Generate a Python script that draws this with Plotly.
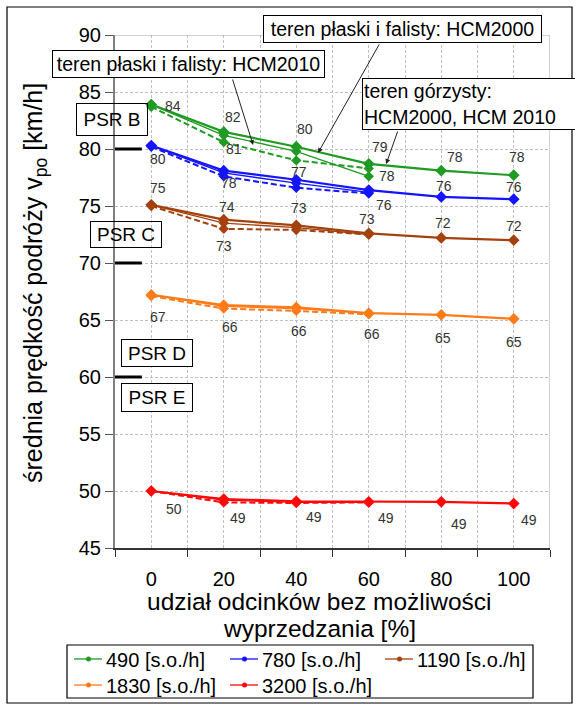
import plotly.graph_objects as go

# share of road sections without overtaking possibility [%]
share = [0, 20, 40, 60, 80, 100]
share_flat = [0, 20, 40, 60]

flows = ["490 [s.o./h]", "780 [s.o./h]", "1190 [s.o./h]", "1830 [s.o./h]", "3200 [s.o./h]"]
colors = ["#1f9a22", "#1414ff", "#a3420f", "#ff7b19", "#ff0808"]

# mean travel speed [km/h]: mountainous terrain (0-100 %)
v490_mount = [83.9, 81.5, 80.2, 78.7, 78.1, 77.7]
v780_mount = [80.3, 78.1, 77.3, 76.4, 75.8, 75.6]
v1190_mount = [75.1, 73.8, 73.3, 72.6, 72.2, 72.0]
v1830_mount = [67.2, 66.3, 66.1, 65.6, 65.45, 65.1]
v3200_mount = [50.0, 49.3, 49.1, 49.05, 49.05, 48.9]

# level and rolling terrain, HCM2000 (0-60 %)
v490_flat2000 = [83.9, 81.2, 79.8, 77.6]
v780_flat2000 = [80.3, 77.9, 77.0, 76.2]
v1190_flat2000 = [75.1, 73.5, 73.1, 72.5]
v1830_flat2000 = [67.2, 66.2, 66.0, 65.6]
v3200_flat2000 = [50.0, 49.2, 49.0, 49.0]

# level and rolling terrain, HCM2010 (0-60 %)
v490_flat2010 = [83.7, 80.6, 79.0, 78.3]
v780_flat2010 = [80.2, 77.6, 76.6, 76.1]
v1190_flat2010 = [75.0, 73.0, 72.9, 72.5]
v1830_flat2010 = [67.1, 66.0, 65.8, 65.5]
v3200_flat2010 = [50.0, 49.0, 48.95, 49.0]

mount = [v490_mount, v780_mount, v1190_mount, v1830_mount, v3200_mount]
flat2000 = [v490_flat2000, v780_flat2000, v1190_flat2000, v1830_flat2000, v3200_flat2000]
flat2010 = [v490_flat2010, v780_flat2010, v1190_flat2010, v1830_flat2010, v3200_flat2010]

FONT = "Arial, 'Liberation Sans', sans-serif"
W, H = 575, 704
L, R, T, B = 115, 550, 35, 548   # plot area in pixels


def px_x(p):
    return (p - L) / (R - L)


def px_y(p):
    return (B - p) / (B - T)


fig = go.Figure()

for i, name in enumerate(flows):
    c = colors[i]
    fig.add_trace(go.Scatter(
        x=share_flat, y=flat2010[i], mode="lines+markers", showlegend=False,
        line=dict(color=c, width=2, dash="6px,3px"),
        marker=dict(symbol="diamond", size=8, color=c), hoverinfo="skip"))
    fig.add_trace(go.Scatter(
        x=share_flat, y=flat2000[i], mode="lines+markers", showlegend=False,
        line=dict(color=c, width=1.3),
        marker=dict(symbol="diamond", size=8, color=c), hoverinfo="skip"))
    fig.add_trace(go.Scatter(
        x=share, y=mount[i], mode="lines+markers", name=name, showlegend=False,
        line=dict(color=c, width=2.2),
        marker=dict(symbol="diamond", size=9, color=c)))

# value labels: (series list, group index, point index, xshift, yshift)
labels = [
    (mount, 0, 0, 22, -1), (mount, 0, 1, 9, 15), (flat2010, 0, 1, 10, -7),
    (mount, 0, 2, 9, 18), (mount, 0, 3, 11, 17), (flat2000, 0, 3, 18, 0),
    (mount, 0, 4, 14, 14), (mount, 0, 5, 3, 18),
    (mount, 1, 0, 7, -13), (mount, 1, 1, 5, -12), (mount, 1, 2, 3, 8),
    (mount, 1, 3, 15, -15), (mount, 1, 4, 3, 11), (mount, 1, 5, 0, 12),
    (mount, 2, 0, 7, 17), (mount, 2, 1, 3, 13), (flat2010, 2, 1, 0, -17),
    (mount, 2, 2, 3, 17), (mount, 2, 3, -2, 14), (mount, 2, 4, 2, 15),
    (mount, 2, 5, 0, 14),
    (mount, 3, 0, 7, -22), (mount, 3, 1, 6, -22), (mount, 3, 2, 3, -24),
    (mount, 3, 3, 3, -21), (mount, 3, 4, 2, -23), (mount, 3, 5, 0, -23),
    (mount, 4, 0, 23, -18), (mount, 4, 1, 14, -19), (mount, 4, 2, 18, -16),
    (mount, 4, 3, 17, -16), (mount, 4, 4, 18, -22), (mount, 4, 5, 15, -16),
]
annotations = []
for series, g, k, xs, ys in labels:
    v = series[g][k]
    annotations.append(dict(
        x=share[k], y=v, xref="x", yref="y", text=str(int(v + 0.5)),
        showarrow=False, xshift=xs, yshift=ys,
        font=dict(family=FONT, size=14, color="#333333")))

# level-of-service boxes
psr = [("PSR B", 76, 103, 72, 33, "rgba(0,0,0,0)"),
       ("PSR C", 90, 221, 72, 27, "rgba(0,0,0,0)"),
       ("PSR D", 121, 339, 72, 28, "white"),
       ("PSR E", 121, 383, 72, 29, "white")]
for txt, x0, y0, w, h, bg in psr:
    annotations.append(dict(
        x=px_x(x0), y=px_y(y0), xref="paper", yref="paper",
        xanchor="left", yanchor="top", text=txt, showarrow=False,
        width=w - 4, height=h - 4, borderpad=1, bordercolor="black",
        borderwidth=1, bgcolor=bg, font=dict(family=FONT, size=19, color="black")))

# captions with arrows
captions = [
    ("teren płaski i falisty: HCM2000", 263, 15, 279, 28, "center"),
    ("teren płaski i falisty: HCM2010", 52, 50, 273, 28, "center"),
    ("teren górzysty:<br>HCM2000, HCM 2010", 362, 78, 216, 52, "left"),
]
for txt, x0, y0, w, h, al in captions:
    annotations.append(dict(
        x=px_x(x0), y=px_y(y0), xref="paper", yref="paper",
        xanchor="left", yanchor="top", text=txt, showarrow=False, align=al,
        width=w - 4, height=h - 4, borderpad=1, bordercolor="black",
        borderwidth=1, bgcolor="white", font=dict(family=FONT, size=19.5, color="black")))

arrows = [(46.0, 79.65, 62, -110), (28.1, 80.35, -21, -67), (64.8, 78.68, 12, -34)]
for ax_, ay_, dx, dy in arrows:
    annotations.append(dict(
        x=ax_, y=ay_, xref="x", yref="y", ax=dx, ay=dy, text="",
        showarrow=True, arrowhead=2, arrowsize=1, arrowwidth=1, arrowcolor="#222222"))

# axis titles
annotations.append(dict(
    x=px_x(35), y=px_y(283), xref="paper", yref="paper", textangle=-90,
    xanchor="center", yanchor="middle",
    text="średnia prędkość podróży v<sub>po</sub> [km/h]", showarrow=False,
    font=dict(family=FONT, size=25, color="black")))
for line_txt, cy in [("udział odcinków bez możliwości", 601), ("wyprzedzania [%]", 628)]:
    annotations.append(dict(
        x=px_x(319), y=px_y(cy), xref="paper", yref="paper",
        xanchor="center", yanchor="middle", text=line_txt, showarrow=False,
        font=dict(family=FONT, size=24.5, color="black")))

shapes = [
    # frame of the whole chart
    dict(type="rect", xref="paper", yref="paper", x0=px_x(7), x1=px_x(572),
         y0=px_y(703), y1=px_y(7), line=dict(color="black", width=1.2)),
    # top and right edges of the plot area
    dict(type="line", xref="x", yref="y", x0=-10, x1=110, y0=90, y1=90,
         line=dict(color="#a6a6a6", width=1)),
    dict(type="line", xref="x", yref="y", x0=110, x1=110, y0=45, y1=90,
         line=dict(color="#a6a6a6", width=1)),
    # legend frame
    dict(type="rect", xref="paper", yref="paper", x0=px_x(67), x1=px_x(533),
         y0=px_y(698), y1=px_y(645), line=dict(color="black", width=1.2)),
]
# level-of-service thresholds
for lvl in [80, 70, 60]:
    shapes.append(dict(type="line", xref="x", yref="y", x0=-10, x1=-2.6, y0=lvl, y1=lvl,
                       line=dict(color="black", width=3)))

# legend entries: three columns, two rows
col_x = [74, 230, 385]
row_y = [659, 685]
for i, name in enumerate(flows):
    x0 = col_x[i % 3]
    y0 = row_y[i // 3]
    shapes.append(dict(type="line", xref="paper", yref="paper",
                       x0=px_x(x0), x1=px_x(x0 + 28), y0=px_y(y0), y1=px_y(y0),
                       line=dict(color=colors[i], width=1.3)))
    shapes.append(dict(type="circle", xref="paper", yref="paper",
                       x0=px_x(x0 + 12), x1=px_x(x0 + 17),
                       y0=px_y(y0 + 2.5), y1=px_y(y0 - 2.5),
                       fillcolor=colors[i], line=dict(color=colors[i], width=0)))
    annotations.append(dict(
        x=px_x(x0 + 30), y=px_y(y0 + 1), xref="paper", yref="paper",
        xanchor="left", yanchor="middle", text=name, showarrow=False,
        font=dict(family=FONT, size=20, color="black")))

fig.update_layout(
    width=W, height=H,
    margin=dict(l=L, r=W - R, t=T, b=H - B, autoexpand=False),
    paper_bgcolor="white", plot_bgcolor="white",
    font=dict(family=FONT, color="black"),
    showlegend=False,
    annotations=annotations, shapes=shapes,
)
fig.update_xaxes(
    range=[-10, 110], tickvals=share, ticks="", ticklabelstandoff=12,
    tickfont=dict(family=FONT, size=20, color="black"),
    showgrid=True, gridcolor="#bfbfbf", griddash="3px,2px", gridwidth=1,
    minor=dict(tick0=-10, dtick=20, ticks="outside", ticklen=7, tickcolor="#333333",
               showgrid=True, gridcolor="#bfbfbf", griddash="3px,2px"),
    showline=True, linecolor="#333333", linewidth=1.5, zeroline=False)
fig.update_yaxes(
    range=[45, 90], dtick=5, ticks="outside", ticklen=8, tickcolor="#555555",
    tickfont=dict(family=FONT, size=20, color="black"),
    showgrid=True, gridcolor="#bfbfbf", griddash="3px,2px", gridwidth=1,
    showline=True, linecolor="#7f7f7f", linewidth=2, zeroline=False)

fig.write_html("out.html")
